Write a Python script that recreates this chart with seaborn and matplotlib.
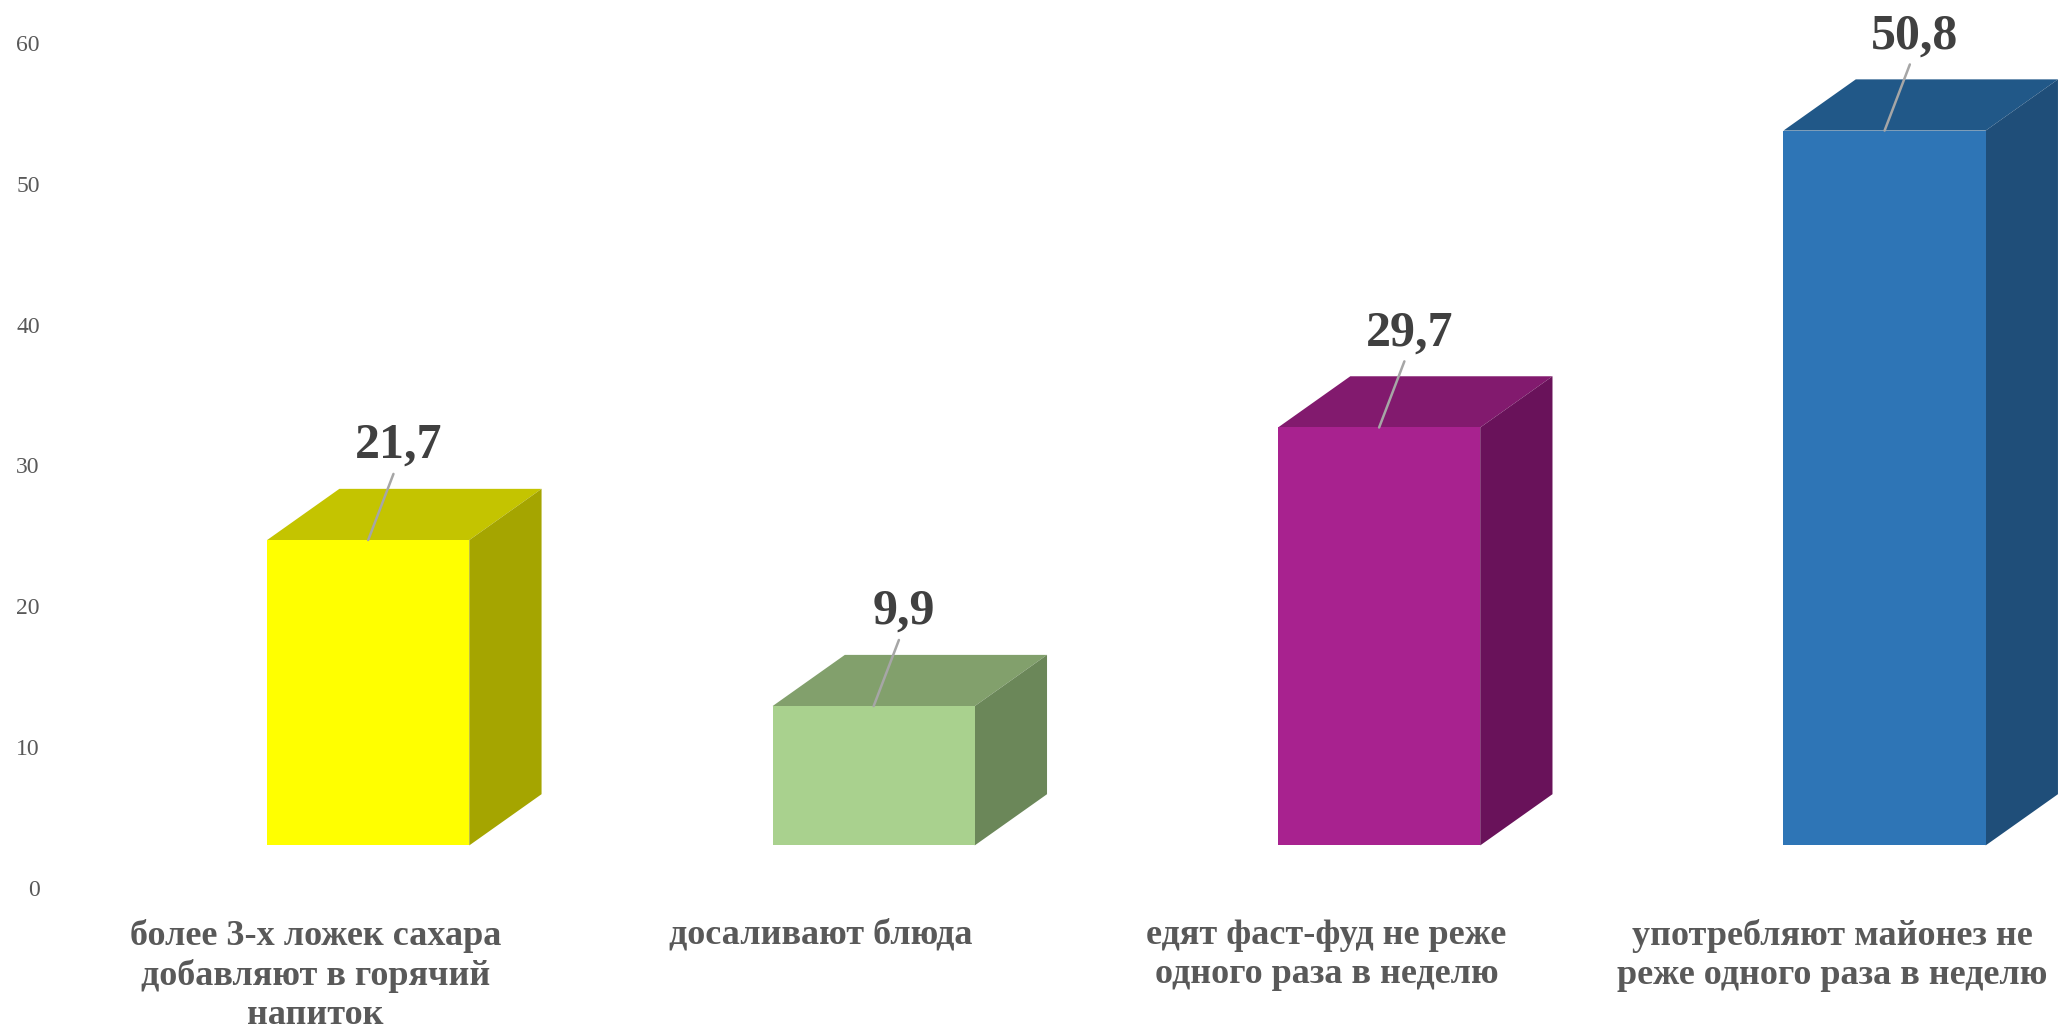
import matplotlib
matplotlib.use("Agg")
import matplotlib.pyplot as plt
from matplotlib.patches import Polygon
import seaborn as sns
import pandas as pd

# Survey results, percent of respondents
categories = [
    "более 3-х ложек сахара\nдобавляют в горячий\nнапиток",
    "досаливают блюда",
    "едят фаст-фуд не реже\nодного раза в неделю",
    "употребляют майонез не\nреже одного раза в неделю",
]
values = [21.7, 9.9, 29.7, 50.8]
value_labels = ["21,7", "9,9", "29,7", "50,8"]
yticks = [0, 10, 20, 30, 40, 50, 60]

front_colors = ["#FFFF00", "#A9D18E", "#A8228F", "#2E75B6"]
top_colors = ["#C4C400", "#82A06C", "#821A6E", "#215888"]
side_colors = ["#A5A500", "#6B8759", "#69125A", "#1F4E79"]

sns.set_theme(style="white")
plt.rcParams["font.family"] = ["Liberation Serif", "DejaVu Serif"]

W, H = 2062, 1032
fig = plt.figure(figsize=(W / 100, H / 100), dpi=100)
ax = fig.add_axes([55 / W, 0, 1 - 55 / W, 1])

df = pd.DataFrame({"cat": categories, "val": values})
sns.barplot(data=df, x="cat", y="val", hue="cat", palette=front_colors,
            saturation=1, width=0.40, legend=False, ax=ax, linewidth=0,
            zorder=3)

# 3D box geometry (data units)
base = 3.0      # front face floor height
dx, dy = 0.143, 3.64   # depth offset of the back plane

for i, p in enumerate(ax.patches):
    x0 = p.get_x()
    w = p.get_width()
    h = p.get_height()
    x1 = x0 + w
    p.set_y(base)
    top = base + h
    top_face = Polygon([(x0, top), (x0 + dx, top + dy), (x1 + dx, top + dy), (x1, top)],
                       closed=True, facecolor=top_colors[i], edgecolor="none", zorder=2)
    side_face = Polygon([(x1, base), (x1 + dx, base + dy), (x1 + dx, top + dy), (x1, top)],
                        closed=True, facecolor=side_colors[i], edgecolor="none", zorder=2)
    ax.add_patch(top_face)
    ax.add_patch(side_face)

    cx = x0 + w / 2
    # leader line and value label
    ax.plot([cx, cx + 0.05], [top, top + 4.7], color="#A6A6A6", lw=1.8, zorder=4)
    ax.text(cx + 0.06, top + 6.7, value_labels[i], ha="center", va="center",
            fontsize=36, fontweight="bold", color="#404040", zorder=5)

    # category label
    ax.text(cx - 0.104, -2.2, categories[i], ha="center", va="top",
            fontsize=26, fontweight="bold", color="#595959", linespacing=1.25)

ax.set_xlim(-0.6196, 3.351)
ax.set_ylim(-10.26, 63.08)
ax.set_yticks(yticks)
ax.set_yticklabels([str(t) for t in yticks])
ax.tick_params(axis="y", length=0, pad=11, labelsize=17, labelcolor="#595959")
ax.set_xticks([])
ax.set_xlabel("")
ax.set_ylabel("")
for s in ax.spines.values():
    s.set_visible(False)

fig.savefig("out.png", dpi=100, facecolor="white")
